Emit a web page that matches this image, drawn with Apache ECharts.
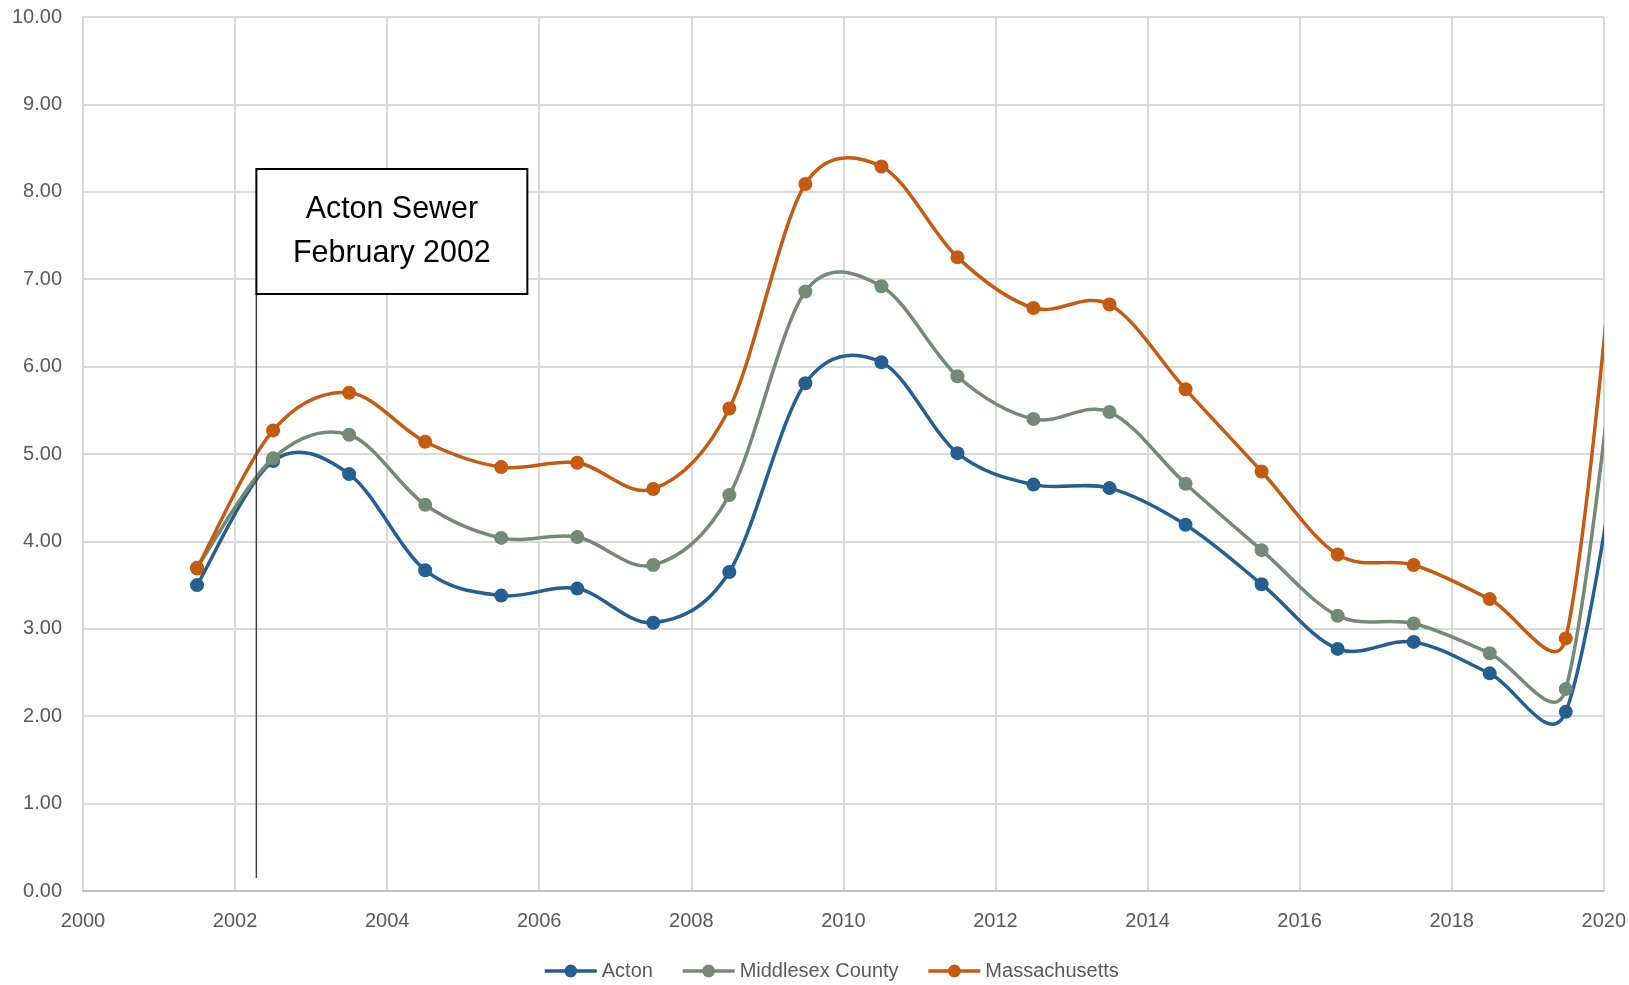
<!DOCTYPE html>
<html><head><meta charset="utf-8">
<script src="https://cdn.jsdelivr.net/npm/echarts@6/dist/echarts.min.js"></script>
<style>html,body{margin:0;padding:0;background:#fff}#c{width:1629px;height:985px}</style>
</head><body><div id="c"></div>
<script>
const years = [2001.5,2002.5,2003.5,2004.5,2005.5,2006.5,2007.5,2008.5,2009.5,2010.5,2011.5,2012.5,2013.5,2014.5,2015.5,2016.5,2017.5,2018.5,2019.5,2020.5];
const acton = [3.50,4.92,4.77,3.67,3.38,3.46,3.07,3.65,5.81,6.05,5.01,4.65,4.61,4.19,3.51,2.77,2.85,2.49,2.05,6.80];
const middlesex = [3.70,4.95,5.22,4.42,4.04,4.05,3.73,4.53,6.86,6.92,5.89,5.40,5.48,4.66,3.90,3.15,3.06,2.72,2.31,8.95];
const massachusetts = [3.69,5.27,5.70,5.14,4.85,4.90,4.60,5.52,8.09,8.29,7.25,6.67,6.71,5.74,4.80,3.85,3.73,3.34,2.89,10.78];
const seriesNames = ['Acton','Middlesex County','Massachusetts'];
const colors = ['#255E91','#728A77','#C55A11'];
const annotation = {x: 2002.28, yBottom: 0.15, lines: ['Acton Sewer','February 2002']};

const FONT = '"Liberation Sans Narrow","Arial Narrow","Liberation Sans",sans-serif';
const chart = echarts.init(document.getElementById('c'));

function dist(a,b){ return Math.hypot(a[0]-b[0], a[1]-b[1]); }
// Excel-style smoothed line: Catmull-Rom bezier with control arms limited to half the segment
function curveSeries(name, vals, color, z){
  const pts = years.map((x,i)=>[x, vals[i]]);
  return {type:'custom', name, z, clip:true, silent:true,
    data: pts.slice(0,-1).map(p=>[p[0], p[1]]),
    encode:{x:0, y:1},
    renderItem:(params, api)=>{
      const i = params.dataIndex;
      const P = k => api.coord(pts[Math.max(0, Math.min(pts.length-1, k))]);
      const p0=P(i-1), p1=P(i), p2=P(i+1), p3=P(i+2);
      const d12 = dist(p1,p2), d02 = dist(p0,p2), d13 = dist(p1,p3);
      let f1 = 1/6, f2 = 1/6;
      if (d02/6 > d12/2) f1 = d12/2/d02;
      if (d13/6 > d12/2) f2 = d12/2/d13;
      return {type:'bezierCurve',
        shape:{x1:p1[0], y1:p1[1], x2:p2[0], y2:p2[1],
          cpx1:p1[0]+(p2[0]-p0[0])*f1, cpy1:p1[1]+(p2[1]-p0[1])*f1,
          cpx2:p2[0]-(p3[0]-p1[0])*f2, cpy2:p2[1]-(p3[1]-p1[1])*f2},
        style:{stroke:color, lineWidth:3.5, fill:'none', lineCap:'round'}};
    }};
}
function markerSeries(name, vals, color, z){
  return {name, type:'line', z, clip:true, smooth:false,
    data: years.map((x,i)=>[x, vals[i]]),
    symbol:'circle', symbolSize:14,
    lineStyle:{color, width:3.5, opacity:0}, itemStyle:{color},
    emphasis:{disabled:true}};
}
const vals = [acton, middlesex, massachusetts];
const series = [];
seriesNames.forEach((n,k)=>series.push(markerSeries(n, vals[k], colors[k], 3+2*k)));
seriesNames.forEach((n,k)=>series.push(curveSeries(n, vals[k], colors[k], 2+2*k)));

chart.setOption({
  animation:false,
  color: colors,
  grid:{left:83, top:17, right:23, bottom:94, containLabel:false},
  legend:{top:956, left:538, itemWidth:52, itemHeight:16, itemGap:28,
    lineStyle:{width:3.5, opacity:1},
    textStyle:{fontFamily:FONT, fontSize:20, color:'#595959'}, data:seriesNames},
  xAxis:{type:'value', min:2000, max:2020, interval:2,
    axisLine:{show:true, lineStyle:{color:'#BFBFBF', width:2}},
    axisTick:{show:false},
    splitLine:{show:true, lineStyle:{color:'#D9D9D9', width:2}},
    axisLabel:{fontFamily:FONT, fontSize:20, color:'#595959', margin:20, formatter:v=>String(v)}},
  yAxis:{type:'value', min:0, max:10, interval:1,
    axisLine:{show:true, lineStyle:{color:'#D9D9D9', width:2}},
    axisTick:{show:false},
    splitLine:{show:true, lineStyle:{color:'#D9D9D9', width:2}},
    axisLabel:{fontFamily:FONT, fontSize:20, color:'#595959', margin:21, formatter:v=>v.toFixed(2)}},
  series
});
const pBot = chart.convertToPixel({gridIndex:0}, [annotation.x, annotation.yBottom]);
const boxLeft = pBot[0], boxTop = 169, boxW = 271, boxH = 125;
chart.setOption({graphic:[
  {type:'line', shape:{x1:boxLeft, y1:boxTop+boxH, x2:boxLeft, y2:pBot[1]}, style:{stroke:'#404040', lineWidth:1.5}, z:50},
  {type:'rect', shape:{x:boxLeft, y:boxTop, width:boxW, height:boxH}, style:{fill:'#fff', stroke:'#000', lineWidth:2}, z:50},
  {type:'text', x:boxLeft+boxW/2, y:boxTop+boxH/2, scaleX:0.95, z:51,
    style:{text:annotation.lines.join('\n'), font:'32px '+FONT, fill:'#000', align:'center', verticalAlign:'middle', lineHeight:44}}
]});
</script></body></html>
